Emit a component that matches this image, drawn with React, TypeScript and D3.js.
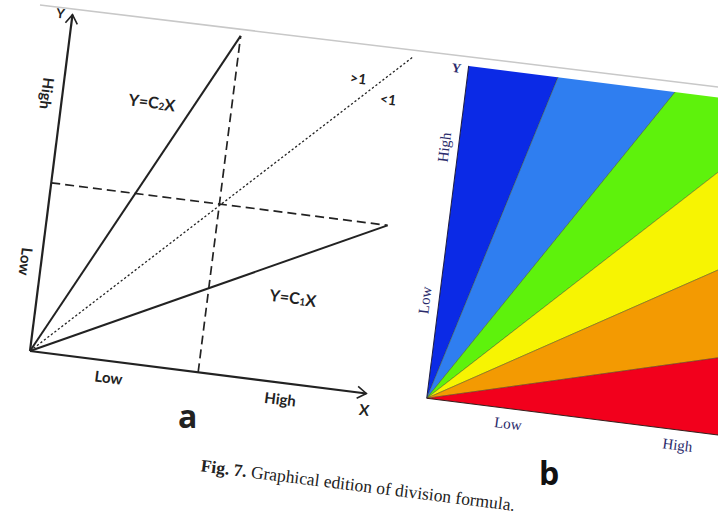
import React from "react";
import * as d3 from "d3";

// panel a: reference lines, in fractions of the axis length
const diagPoints = [[0, 0], [1.01, 1.0]];
const c2Line = [[0, 0], [0.5, 1]];
const c1Line = [[0, 0], [1, 0.5]];
const hDash = [[0, 0.5], [1, 0.5]];
const vDash = [[0.5, 0], [0.5, 1]];
const axisLabels = ["Low", "High"];
const axisLabelPos = [0.24, 0.75];

// panel b: band boundaries as slopes y/x, from the Y axis down to the X axis
const bandSlopes = [Infinity, 3.72, 1.61, 1.0, 0.6, 0.27, 0];
const bandColors = ["#0b2ae6", "#2f7ef0", "#5ef20c", "#f7f402", "#f39a02", "#f2001c"];

const W = 718;
const H = 521;
const ANGLE = 7.2;
const SA = 339; // panel a side
const SB = 335; // panel b side

export default function App() {
  const xa = d3.scaleLinear([0, 1], [0, SA]);
  const ya = d3.scaleLinear([0, 1], [0, -SA]);
  const xb = d3.scaleLinear([0, 1], [0, SB]);
  const yb = d3.scaleLinear([0, 1], [0, -SB]);
  const lineA = d3.line<number[]>().x(d => xa(d[0])).y(d => ya(d[1]));

  const bands = bandColors.map((c, i) => {
    const a1 = Math.atan(bandSlopes[i]);
    const a2 = Math.atan(bandSlopes[i + 1]);
    const L = 3;
    const pts: [number, number][] = [
      [0, 0],
      [L * Math.cos(a1), L * Math.sin(a1)],
      [L * Math.cos((a1 + a2) / 2), L * Math.sin((a1 + a2) / 2)],
      [L * Math.cos(a2), L * Math.sin(a2)],
    ];
    return { c, d: d3.line<[number, number]>().x(p => xb(p[0])).y(p => yb(p[1]))(pts) + "Z" };
  });

  const sansA = "Lato, 'Open Sans', sans-serif";
  const serif = "'Liberation Serif', 'DejaVu Serif', serif";
  const navy = "#2b2b6b";

  return (
    <svg width={W} height={H} style={{ position: "absolute", left: 0, top: 0, background: "#fff" }}>
      <defs>
        <clipPath id="clipB">
          <rect x={0} y={-SB} width={SB} height={SB} />
        </clipPath>
      </defs>
      {/* page edge of the scan */}
      <line x1={40} y1={5} x2={W} y2={87} stroke="#c8c8c8" strokeWidth={1.5} />
      <g transform={`translate(30,351) rotate(${ANGLE})`}>
        {/* ---------- panel a ---------- */}
        <g stroke="#222" fill="none">
          <path d={lineA(diagPoints) || ""} strokeWidth={1.3} strokeDasharray="2.2,2.2" />
          <path d={lineA(hDash) || ""} strokeWidth={1.7} strokeDasharray="9,5" />
          <path d={lineA(vDash) || ""} strokeWidth={1.7} strokeDasharray="9,5" />
          <path d={lineA(c2Line) || ""} strokeWidth={2} />
          <path d={lineA(c1Line) || ""} strokeWidth={2} />
          {/* axes */}
          <line x1={0} y1={0} x2={xa(1)} y2={0} strokeWidth={2.2} />
          <line x1={0} y1={0} x2={0} y2={ya(1)} strokeWidth={2.2} />
          <path d={`M${xa(1) - 9},-6 L${xa(1)},0 L${xa(1) - 9},6`} strokeWidth={1.6} />
          <path d={`M-6,${ya(1) + 9} L0,${ya(1)} L6,${ya(1) + 9}`} strokeWidth={1.6} />
        </g>
        <g fontFamily={sansA} fontWeight="bold" fill="#222" textAnchor="middle" dominantBaseline="central">
          <text x={-12} y={ya(1)} fontSize={13}>Y</text>
          <text x={xa(1)} y={16} fontSize={15}>X</text>
          {axisLabels.map((t, i) => (
            <text key={"xa" + t} x={xa(axisLabelPos[i])} y={16} fontSize={15}>{t}</text>
          ))}
          {axisLabels.map((t, i) => (
            <text key={"ya" + t} transform={`translate(-15,${ya(axisLabelPos[i] + (i === 0 ? 0.02 : 0.01))}) rotate(90)`} fontSize={15}>{t}</text>
          ))}
          <text x={xa(0.265)} y={ya(0.775)} fontSize={16}>
            Y=C<tspan fontSize={10} dy={3}>2</tspan><tspan dy={-3}>X</tspan>
          </text>
          <text x={xa(0.75)} y={ya(0.255)} fontSize={16}>
            Y=C<tspan fontSize={10} dy={3}>1</tspan><tspan dy={-3}>X</tspan>
          </text>
          <text x={xa(0.86)} y={ya(0.92)} fontSize={14}>&gt;1</text>
          <text x={xa(0.955)} y={ya(0.87)} fontSize={14}>&lt;1</text>
          <text transform={`translate(${xa(0.485)},44) rotate(${-ANGLE})`} fontSize={32} fontFamily="'Open Sans', sans-serif">a</text>
        </g>

        {/* ---------- panel b ---------- */}
        <g transform="translate(399.5,-2.8)">
          <g clipPath="url(#clipB)">
            {bands.map(b => (
              <path key={b.c} d={b.d} fill={b.c} stroke="#3a4a20" strokeOpacity={0.5} strokeWidth={0.8} />
            ))}
          </g>
          <line x1={0} y1={0} x2={xb(1)} y2={0} stroke="#3a1a1a" strokeWidth={1} />
          <line x1={0} y1={0} x2={0} y2={yb(1)} stroke="#1a1a4a" strokeWidth={1} />
          <g fontFamily={serif} fill={navy} textAnchor="middle" dominantBaseline="central">
            <text x={-12} y={yb(0.99)} fontSize={13} fontWeight="bold">Y</text>
            {axisLabels.map((t, i) => (
              <text key={"xb" + t} x={xb(axisLabelPos[i] + 0.01)} y={15} fontSize={15}>{t}</text>
            ))}
            {axisLabels.map((t, i) => (
              <text key={"yb" + t} transform={`translate(-14,${yb(i === 0 ? 0.29 : 0.75)}) rotate(-90)`} fontSize={15}>{t}</text>
            ))}
          </g>
          <text transform={`translate(${xb(0.39)},58) rotate(${-ANGLE})`} fontSize={32} fontWeight="bold" fontFamily="'Open Sans', sans-serif" fill="#111" textAnchor="middle" dominantBaseline="central">b</text>
        </g>

        {/* caption */}
        <text x={184} y={98} fontFamily={serif} fontSize={17.5} fill="#222">
          <tspan fontWeight="bold">Fig. 7.</tspan> Graphical edition of division formula.
        </text>
      </g>
    </svg>
  );
}
